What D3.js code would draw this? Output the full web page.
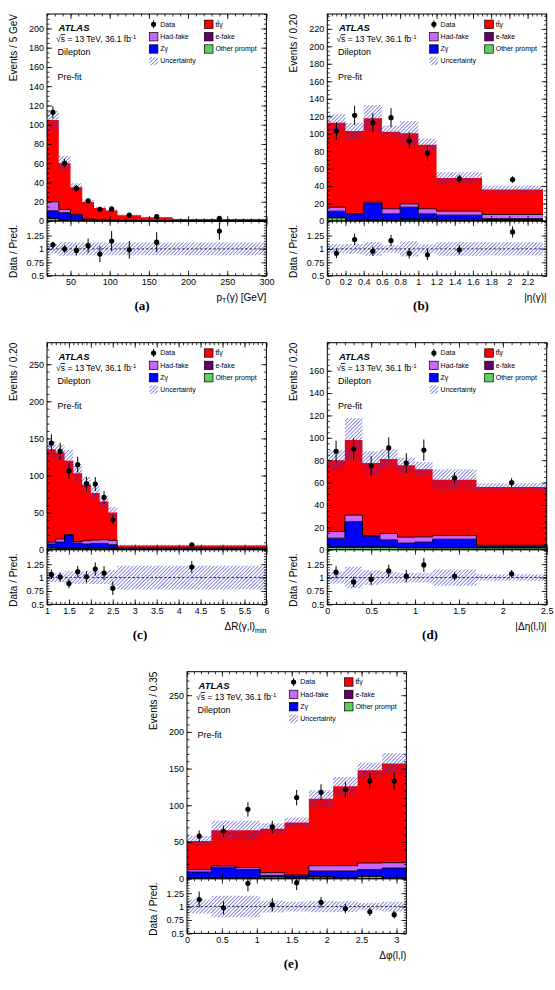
<!DOCTYPE html>
<html>

<head>
    <meta charset="utf-8">
    <title>Dilepton pre-fit distributions</title>
    <script src="https://d3js.org/d3.v7.min.js"></script>
    <style>
        body { margin: 0; background: #fff; }
        svg text { font-family: "Liberation Sans", Arial, Helvetica, sans-serif; fill: #000; }
    </style>
</head>

<body>
    <script>
        // ---- (a) photon pT, Events / 5 GeV
        const ptEdges = [20, 35, 50, 65, 80, 95, 110, 140, 180, 300];
        const ptData = [113, 60, 34, 21, 12.2, 12.5, 6, 4.5, 2.8];
        const ptTtgamma = [85, 48, 28.1, 17.8, 12.4, 10.1, 5.6, 3.72, 1.96];
        const ptHadFake = [9.5, 3.4, 1.0, 0.5, 0.4, 0.3, 0.2, 0.1, 0.05];
        const ptZgamma = [7.5, 7.5, 5.3, 1.2, 0.5, 0.3, 0.2, 0.1, 0.05];
        const ptEfake = [0.5, 0.3, 0.2, 0.1, 0.1, 0.1, 0.05, 0.03, 0.02];
        const ptOther = [2.5, 0.8, 0.4, 0.2, 0.1, 0.1, 0.05, 0.05, 0.02];
        const ptUnc = [0.09, 0.13, 0.12, 0.12, 0.12, 0.12, 0.12, 0.12, 0.12];
        const ptXTicks = [50, 100, 150, 200, 250, 300];
        const ptYTicks = [0, 20, 40, 60, 80, 100, 120, 140, 160, 180, 200];

        // ---- (b) photon |eta|, Events / 0.20
        const etaEdges = [0, 0.2, 0.4, 0.6, 0.8, 1.0, 1.2, 1.7, 2.37];
        const etaData = [103, 121, 112.6, 118.3, 92, 77.7, 48.5, 47.4];
        const etaTtgamma = [96.8, 94.6, 96.1, 88.3, 80.9, 73.2, 38, 28.5];
        const etaHadFake = [4.5, 0.2, 1.5, 5.8, 3.8, 5.8, 4.6, 4.9];
        const etaZgamma = [7, 6.9, 18.4, 6.9, 13.5, 5.9, 5.4, 0.9];
        const etaEfake = [0.8, 0.8, 0.8, 0.8, 0.8, 0.8, 0.8, 1.2];
        const etaOther = [3.5, 0.5, 0.8, 0.5, 1.5, 1.5, 0.5, 0.5];
        const etaUnc = [0.085, 0.09, 0.13, 0.07, 0.14, 0.08, 0.13, 0.125];
        const etaXTicks = [0, 0.2, 0.4, 0.6, 0.8, 1, 1.2, 1.4, 1.6, 1.8, 2, 2.2];
        const etaYTicks = [0, 20, 40, 60, 80, 100, 120, 140, 160, 180, 200, 220];

        // ---- (c) dR(photon, lepton)_min, Events / 0.20
        const drEdges = [1.0, 1.2, 1.4, 1.6, 1.8, 2.0, 2.2, 2.4, 2.6, 6.0];
        const drData = [143.6, 132.4, 106.5, 114.6, 89, 88.5, 70.5, 40.4, 6.7];
        const drTtgamma = [125.2, 116.6, 99.8, 92.2, 75.5, 63.3, 51.5, 37.7, 3.4];
        const drHadFake = [2.7, 4.1, 0.5, 2, 4.5, 4.5, 5, 5.9, 1.3];
        const drZgamma = [4.9, 8.3, 17.7, 7, 5.6, 6, 6, 5.2, 0.4];
        const drEfake = [0.5, 0.5, 0.5, 0.5, 0.5, 0.5, 0.5, 0.5, 0.2];
        const drOther = [2.2, 1.5, 1.5, 1.5, 1.5, 2, 2, 1, 0.3];
        const drUnc = [0.08, 0.08, 0.12, 0.12, 0.12, 0.12, 0.12, 0.14, 0.22];
        const drXTicks = [1, 1.5, 2, 2.5, 3, 3.5, 4, 4.5, 5, 5.5, 6];
        const drYTicks = [0, 50, 100, 150, 200, 250];

        // ---- (d) |delta eta(l,l)|, Events / 0.20
        const detaEdges = [0, 0.2, 0.4, 0.6, 0.8, 1.0, 1.2, 1.7, 2.5];
        const detaData = [88, 90, 75, 91, 77.5, 89, 64, 60];
        const detaTtgamma = [63.8, 67.1, 64.9, 66.6, 64.3, 60.5, 49.9, 52];
        const detaHadFake = [5.9, 5.9, 0.3, 5.6, 5.3, 4.7, 3.2, 1];
        const detaZgamma = [7.8, 22.5, 9.8, 6.3, 3.9, 4.8, 7.4, 1];
        const detaEfake = [0.5, 0.5, 0.5, 0.5, 0.5, 0.5, 0.5, 0.5];
        const detaOther = [2, 2, 2, 2, 1.5, 1.5, 1.5, 1.5];
        const detaUnc = [0.11, 0.2, 0.135, 0.11, 0.09, 0.09, 0.15, 0.06];
        const detaXTicks = [0, 0.5, 1, 1.5, 2, 2.5];
        const detaYTicks = [0, 20, 40, 60, 80, 100, 120, 140, 160];

        // ---- (e) delta phi(l,l), Events / 0.35
        const dphiEdges = [0, 0.349, 0.698, 1.047, 1.396, 1.745, 2.094, 2.443, 2.793, 3.142];
        const dphiData = [58.2, 64.5, 94.5, 70.5, 110.5, 117.7, 121.4, 133.2, 133.2];
        const dphiTtgamma = [39.1, 48.6, 50.9, 60, 71.4, 91.3, 108.3, 126.3, 135];
        const dphiHadFake = [3.2, 2.3, 2.7, 3.7, 1, 7.2, 7.2, 9.1, 7.3];
        const dphiZgamma = [8.1, 14, 11.3, 1.7, 2, 7.7, 9, 8.6, 13];
        const dphiEfake = [0.5, 0.5, 0.5, 0.5, 0.5, 0.5, 0.5, 0.5, 0.5];
        const dphiOther = [0.5, 0.5, 0.5, 2.3, 1.5, 2.3, 1, 3.2, 1];
        const dphiUnc = [0.13, 0.2, 0.2, 0.11, 0.09, 0.105, 0.1, 0.07, 0.09];
        const dphiXTicks = [0, 0.5, 1, 1.5, 2, 2.5, 3];
        const dphiYTicks = [0, 50, 100, 150, 200, 250];

        const ratioTicks = [0.5, 0.75, 1, 1.25];

        // stack order bottom -> top
        const stackColors = ["#5fcf5f", "#660066", "#0000ff", "#cc66ff", "#ff0000"];

        const panels = [
            {
                tag: "(a)", left: 47, top: 14, capX: 142,
                edges: ptEdges, data: ptData, unc: ptUnc, binUnit: 5,
                stack: [ptOther, ptEfake, ptZgamma, ptHadFake, ptTtgamma],
                xDomain: [20, 300], xTicks: ptXTicks, xMinor: 10,
                yMax: 215, yTicks: ptYTicks, yMinor: 5,
                yTitle: "Events / 5 GeV", xTitle: "pt"
            },
            {
                tag: "(b)", left: 327.3, top: 14, capX: 421,
                edges: etaEdges, data: etaData, unc: etaUnc, binUnit: 0.2,
                stack: [etaOther, etaEfake, etaZgamma, etaHadFake, etaTtgamma],
                xDomain: [0, 2.41], xTicks: etaXTicks, xMinor: 0.05,
                yMax: 237, yTicks: etaYTicks, yMinor: 5,
                yTitle: "Events / 0.20", xTitle: "eta"
            },
            {
                tag: "(c)", left: 47, top: 342.7, capX: 140,
                edges: drEdges, data: drData, unc: drUnc, binUnit: 0.2,
                stack: [drOther, drEfake, drZgamma, drHadFake, drTtgamma],
                xDomain: [1, 6], xTicks: drXTicks, xMinor: 0.1,
                yMax: 279, yTicks: drYTicks, yMinor: 10,
                yTitle: "Events / 0.20", xTitle: "dr"
            },
            {
                tag: "(d)", left: 327.3, top: 342.7, capX: 430,
                edges: detaEdges, data: detaData, unc: detaUnc, binUnit: 0.2,
                stack: [detaOther, detaEfake, detaZgamma, detaHadFake, detaTtgamma],
                xDomain: [0, 2.5], xTicks: detaXTicks, xMinor: 0.1,
                yMax: 185, yTicks: detaYTicks, yMinor: 5,
                yTitle: "Events / 0.20", xTitle: "deta"
            },
            {
                tag: "(e)", left: 187, top: 671.7, capX: 291,
                edges: dphiEdges, data: dphiData, unc: dphiUnc, binUnit: 0.349,
                stack: [dphiOther, dphiEfake, dphiZgamma, dphiHadFake, dphiTtgamma],
                xDomain: [0, 3.142], xTicks: dphiXTicks, xMinor: 0.1,
                yMax: 282, yTicks: dphiYTicks, yMinor: 10,
                yTitle: "Events / 0.35", xTitle: "dphi"
            }
        ];

        const svg = d3.select("body").append("svg")
            .attr("width", 555)
            .attr("height", 990);

        // hatch used for the uncertainty band
        svg.append("defs").append("pattern")
            .attr("id", "hatch")
            .attr("patternUnits", "userSpaceOnUse")
            .attr("width", 2.6).attr("height", 2.6)
            .attr("patternTransform", "rotate(45)")
            .append("line")
            .attr("x1", 0).attr("y1", 0).attr("x2", 0).attr("y2", 2.6)
            .attr("stroke", "#2f2fcc").attr("stroke-width", 1.1);

        const fmt = d => String(+d.toFixed(2));
        const minorTicks = (lo, hi, step) =>
            d3.range(Math.ceil(lo / step - 1e-6) * step, hi + 1e-6, step).map(v => +v.toFixed(4));

        function styleAxis(sel) {
            sel.select(".domain").remove();
            sel.attr("font-family", null).attr("font-size", null);
            sel.selectAll("line").attr("stroke", "#000").attr("stroke-width", 0.8);
            sel.selectAll("text").attr("font-size", 9).attr("fill", "#000");
        }

        function xTitle(t, kind) {
            if (kind === "pt") {
                t.append("tspan").text("p");
                t.append("tspan").attr("dy", 2).attr("font-size", 7).text("T");
                t.append("tspan").attr("dy", -2).text("(γ) [GeV]");
            } else if (kind === "eta") {
                t.text("|η(γ)|");
            } else if (kind === "dr") {
                t.append("tspan").text("ΔR(γ,l)");
                t.append("tspan").attr("dy", 3).attr("font-size", 7).text("min");
            } else if (kind === "deta") {
                t.text("|Δη(l,l)|");
            } else {
                t.text("Δφ(l,l)");
            }
        }

        function drawPanel(p) {
            const w = 219.4, hMain = 207, hRatio = 54.7;
            const g = svg.append("g").attr("transform", "translate(" + p.left + "," + p.top + ")");

            const x = d3.scaleLinear().domain(p.xDomain).range([0, w]);
            const y = d3.scaleLinear().domain([0, p.yMax]).range([hMain, 0]);
            const yr = d3.scaleLinear().domain([0.5, 1.52]).range([hMain + hRatio, hMain]);

            const nb = p.edges.length - 1;
            const total = d3.range(nb).map(i => d3.sum(p.stack, s => s[i]));
            const pointsFrom = (lo, hi) => p.edges.map((e, j) => {
                const i = Math.min(j, nb - 1);
                return { x: e, lo: lo[i], hi: hi[i] };
            });

            // stacked histograms
            const area = d3.area().curve(d3.curveStepAfter)
                .x(d => x(d.x)).y0(d => y(d.lo)).y1(d => y(d.hi));
            const step = d3.line().curve(d3.curveStepAfter)
                .x(d => x(d.x)).y(d => y(d.hi));
            let cum = new Array(nb).fill(0);
            const outlines = [];
            p.stack.forEach((layer, k) => {
                const lo = cum.slice();
                const hi = cum.map((c, i) => c + layer[i]);
                cum = hi;
                const pts = pointsFrom(lo, hi);
                g.append("path").datum(pts).attr("d", area).attr("fill", stackColors[k]);
                if (k < p.stack.length - 1) outlines.push(pts);
            });
            outlines.forEach(pts => {
                g.append("path").datum(pts).attr("d", step)
                    .attr("fill", "none").attr("stroke", "#000").attr("stroke-width", 0.9);
            });

            // uncertainty band on the total
            const band = pointsFrom(total.map((t, i) => t * (1 - p.unc[i])), total.map((t, i) => t * (1 + p.unc[i])));
            g.append("path").datum(band).attr("d", area).attr("fill", "url(#hatch)");

            // ratio band
            const rArea = d3.area().curve(d3.curveStepAfter)
                .x(d => x(d.x)).y0(d => yr(d.lo)).y1(d => yr(d.hi));
            const rBand = pointsFrom(p.unc.map(u => 1 - u), p.unc.map(u => 1 + u));
            g.append("path").datum(rBand).attr("d", rArea).attr("fill", "url(#hatch)");

            g.append("line")
                .attr("x1", 0).attr("x2", w)
                .attr("y1", yr(1)).attr("y2", yr(1))
                .attr("stroke", "#000").attr("stroke-width", 0.8)
                .attr("stroke-dasharray", "2.5,2");

            // axes, ticks inside the frame on every side
            const yMinorVals = minorTicks(0, p.yMax, p.yMinor);
            const xMinorVals = minorTicks(p.xDomain[0], p.xDomain[1], p.xMinor);
            const xMajorAll = minorTicks(p.xDomain[0], p.xDomain[1], p.xTicks[1] - p.xTicks[0]);
            const rMinorVals = minorTicks(0.5, 1.52, 0.05);

            g.append("g").call(d3.axisLeft(y).tickValues(p.yTicks).tickSize(-5).tickPadding(3).tickFormat(fmt)).call(styleAxis);
            g.append("g").call(d3.axisLeft(y).tickValues(yMinorVals).tickSize(-2.5).tickFormat("")).call(styleAxis);
            g.append("g").attr("transform", "translate(" + w + ",0)")
                .call(d3.axisRight(y).tickValues(p.yTicks).tickSize(-5).tickFormat("")).call(styleAxis);
            g.append("g").attr("transform", "translate(" + w + ",0)")
                .call(d3.axisRight(y).tickValues(yMinorVals).tickSize(-2.5).tickFormat("")).call(styleAxis);
            g.append("g").call(d3.axisTop(x).tickValues(xMajorAll).tickSize(-5).tickFormat("")).call(styleAxis);
            g.append("g").call(d3.axisTop(x).tickValues(xMinorVals).tickSize(-2.5).tickFormat("")).call(styleAxis);
            g.append("g").attr("transform", "translate(0," + hMain + ")")
                .call(d3.axisBottom(x).tickValues(xMajorAll).tickSize(-5).tickFormat("")).call(styleAxis);
            g.append("g").attr("transform", "translate(0," + hMain + ")")
                .call(d3.axisBottom(x).tickValues(xMinorVals).tickSize(-2.5).tickFormat("")).call(styleAxis);

            // ratio axes
            g.append("g").call(d3.axisLeft(yr).tickValues(ratioTicks).tickSize(-5).tickPadding(3).tickFormat(fmt)).call(styleAxis);
            g.append("g").call(d3.axisLeft(yr).tickValues(rMinorVals).tickSize(-2.5).tickFormat("")).call(styleAxis);
            g.append("g").attr("transform", "translate(" + w + ",0)")
                .call(d3.axisRight(yr).tickValues(ratioTicks).tickSize(-5).tickFormat("")).call(styleAxis);
            g.append("g").attr("transform", "translate(" + w + ",0)")
                .call(d3.axisRight(yr).tickValues(rMinorVals).tickSize(-2.5).tickFormat("")).call(styleAxis);
            g.append("g").attr("transform", "translate(0," + hMain + ")")
                .call(d3.axisTop(x).tickValues(xMajorAll).tickSize(-5).tickFormat("")).call(styleAxis);
            g.append("g").attr("transform", "translate(0," + hMain + ")")
                .call(d3.axisTop(x).tickValues(xMinorVals).tickSize(-2.5).tickFormat("")).call(styleAxis);
            g.append("g").attr("transform", "translate(0," + (hMain + hRatio) + ")")
                .call(d3.axisBottom(x).tickValues(p.xTicks).tickSize(-5).tickPadding(3).tickFormat(fmt)).call(styleAxis);
            g.append("g").attr("transform", "translate(0," + (hMain + hRatio) + ")")
                .call(d3.axisBottom(x).tickValues(xMinorVals).tickSize(-2.5).tickFormat("")).call(styleAxis);

            // frames
            g.append("rect").attr("width", w).attr("height", hMain)
                .attr("fill", "none").attr("stroke", "#000").attr("stroke-width", 1);
            g.append("rect").attr("y", hMain).attr("width", w).attr("height", hRatio)
                .attr("fill", "none").attr("stroke", "#000").attr("stroke-width", 1);

            // data points, Poisson errors scaled to the bin width
            const pts = p.data.map((d, i) => {
                const f = (p.edges[i + 1] - p.edges[i]) / p.binUnit;
                const err = Math.sqrt(d * f) / f;
                return {
                    cx: (p.edges[i] + p.edges[i + 1]) / 2, d: d, err: err,
                    r: d / total[i], rerr: err / total[i]
                };
            });
            const clipId = "clip" + p.tag.replace(/\W/g, "");
            g.append("clipPath").attr("id", clipId).append("rect")
                .attr("y", hMain).attr("width", w).attr("height", hRatio);

            g.selectAll(".errMain").data(pts).enter().append("line")
                .attr("x1", d => x(d.cx)).attr("x2", d => x(d.cx))
                .attr("y1", d => y(d.d - d.err)).attr("y2", d => y(d.d + d.err))
                .attr("stroke", "#000").attr("stroke-width", 1);
            g.selectAll(".ptMain").data(pts).enter().append("circle")
                .attr("cx", d => x(d.cx)).attr("cy", d => y(d.d)).attr("r", 2.6).attr("fill", "#000");

            const rg = g.append("g").attr("clip-path", "url(#" + clipId + ")");
            rg.selectAll("line").data(pts).enter().append("line")
                .attr("x1", d => x(d.cx)).attr("x2", d => x(d.cx))
                .attr("y1", d => yr(d.r - d.rerr)).attr("y2", d => yr(d.r + d.rerr))
                .attr("stroke", "#000").attr("stroke-width", 1);
            rg.selectAll("circle").data(pts).enter().append("circle")
                .attr("cx", d => x(d.cx)).attr("cy", d => yr(d.r)).attr("r", 2.6).attr("fill", "#000");

            // axis titles
            g.append("text")
                .attr("transform", "translate(-34,0) rotate(-90)")
                .attr("text-anchor", "end").attr("dy", "0.35em")
                .attr("font-size", 10).text(p.yTitle);
            g.append("text")
                .attr("transform", "translate(-34," + (hMain + hRatio / 2 + 3) + ") rotate(-90)")
                .attr("text-anchor", "middle").attr("dy", "0.35em")
                .attr("font-size", 10).text("Data / Pred.");
            const xt = g.append("text")
                .attr("x", w).attr("y", hMain + hRatio + 22).attr("dy", "0.35em")
                .attr("text-anchor", "end").attr("font-size", 10);
            xTitle(xt, p.xTitle);

            svg.append("text")
                .attr("x", p.capX).attr("y", p.top + hMain + hRatio + 30).attr("dy", "0.35em")
                .attr("text-anchor", "middle")
                .style("font-family", "'Liberation Serif', 'Times New Roman', serif")
                .attr("font-weight", "bold").attr("font-size", 13)
                .text(p.tag);

            drawLegend(g);
        }

        function drawLegend(g) {
            const lx = 10.6;
            g.append("text").attr("x", lx + 1).attr("y", 13.7).attr("dy", "0.35em")
                .attr("font-size", 9.5).attr("font-weight", "bold").attr("font-style", "italic")
                .text("ATLAS");
            const s = g.append("text").attr("x", lx - 1.5).attr("y", 25.3).attr("dy", "0.35em").attr("font-size", 8.5);
            s.append("tspan").text("√");
            s.append("tspan").style("text-decoration", "overline").text("s");
            s.append("tspan").text(" = 13 TeV, 36.1  fb");
            s.append("tspan").attr("dy", -3).attr("font-size", 6).text("-1");
            g.append("text").attr("x", lx).attr("y", 37.7).attr("dy", "0.35em").attr("font-size", 9).text("Dilepton");
            g.append("text").attr("x", lx).attr("y", 62.7).attr("dy", "0.35em").attr("font-size", 9).text("Pre-fit");

            const c1 = 106.6, c2 = 161.7, rows = [10.3, 22.7, 35, 47];
            const lf = 7;
            // Data
            g.append("line").attr("x1", c1).attr("x2", c1).attr("y1", rows[0] - 4).attr("y2", rows[0] + 4)
                .attr("stroke", "#000").attr("stroke-width", 1);
            g.append("circle").attr("cx", c1).attr("cy", rows[0]).attr("r", 2.6).attr("fill", "#000");
            g.append("text").attr("x", c1 + 6.7).attr("y", rows[0]).attr("dy", "0.35em")
                .attr("font-size", lf).text("Data");
            const boxes = [
                { cx: c1, cy: rows[1], fill: stackColors[3], label: "Had-fake" },
                { cx: c1, cy: rows[2], fill: stackColors[2], label: "Zγ" },
                { cx: c1, cy: rows[3], fill: "url(#hatch)", label: "Uncertainty", noStroke: true },
                { cx: c2, cy: rows[1], fill: stackColors[1], label: "e-fake" },
                { cx: c2, cy: rows[2], fill: stackColors[0], label: "Other prompt" }
            ];
            boxes.forEach(b => {
                g.append("rect").attr("x", b.cx - 4.3).attr("y", b.cy - 4.2).attr("width", 8.6).attr("height", 8.4)
                    .attr("fill", b.fill).attr("stroke", b.noStroke ? "none" : "#000").attr("stroke-width", 0.7);
                g.append("text").attr("x", b.cx + 6.7).attr("y", b.cy).attr("dy", "0.35em")
                    .attr("font-size", lf).text(b.label);
            });
            // ttgamma entry
            g.append("rect").attr("x", c2 - 4.3).attr("y", rows[0] - 4.2).attr("width", 8.6).attr("height", 8.4)
                .attr("fill", stackColors[4]).attr("stroke", "#000").attr("stroke-width", 0.7);
            const tt = g.append("text").attr("x", c2 + 6.7).attr("y", rows[0]).attr("dy", "0.35em").attr("font-size", lf);
            tt.append("tspan").text("t");
            tt.append("tspan").style("text-decoration", "overline").text("t");
            tt.append("tspan").text("γ");
        }

        panels.forEach(drawPanel);
    </script>
</body>

</html>
